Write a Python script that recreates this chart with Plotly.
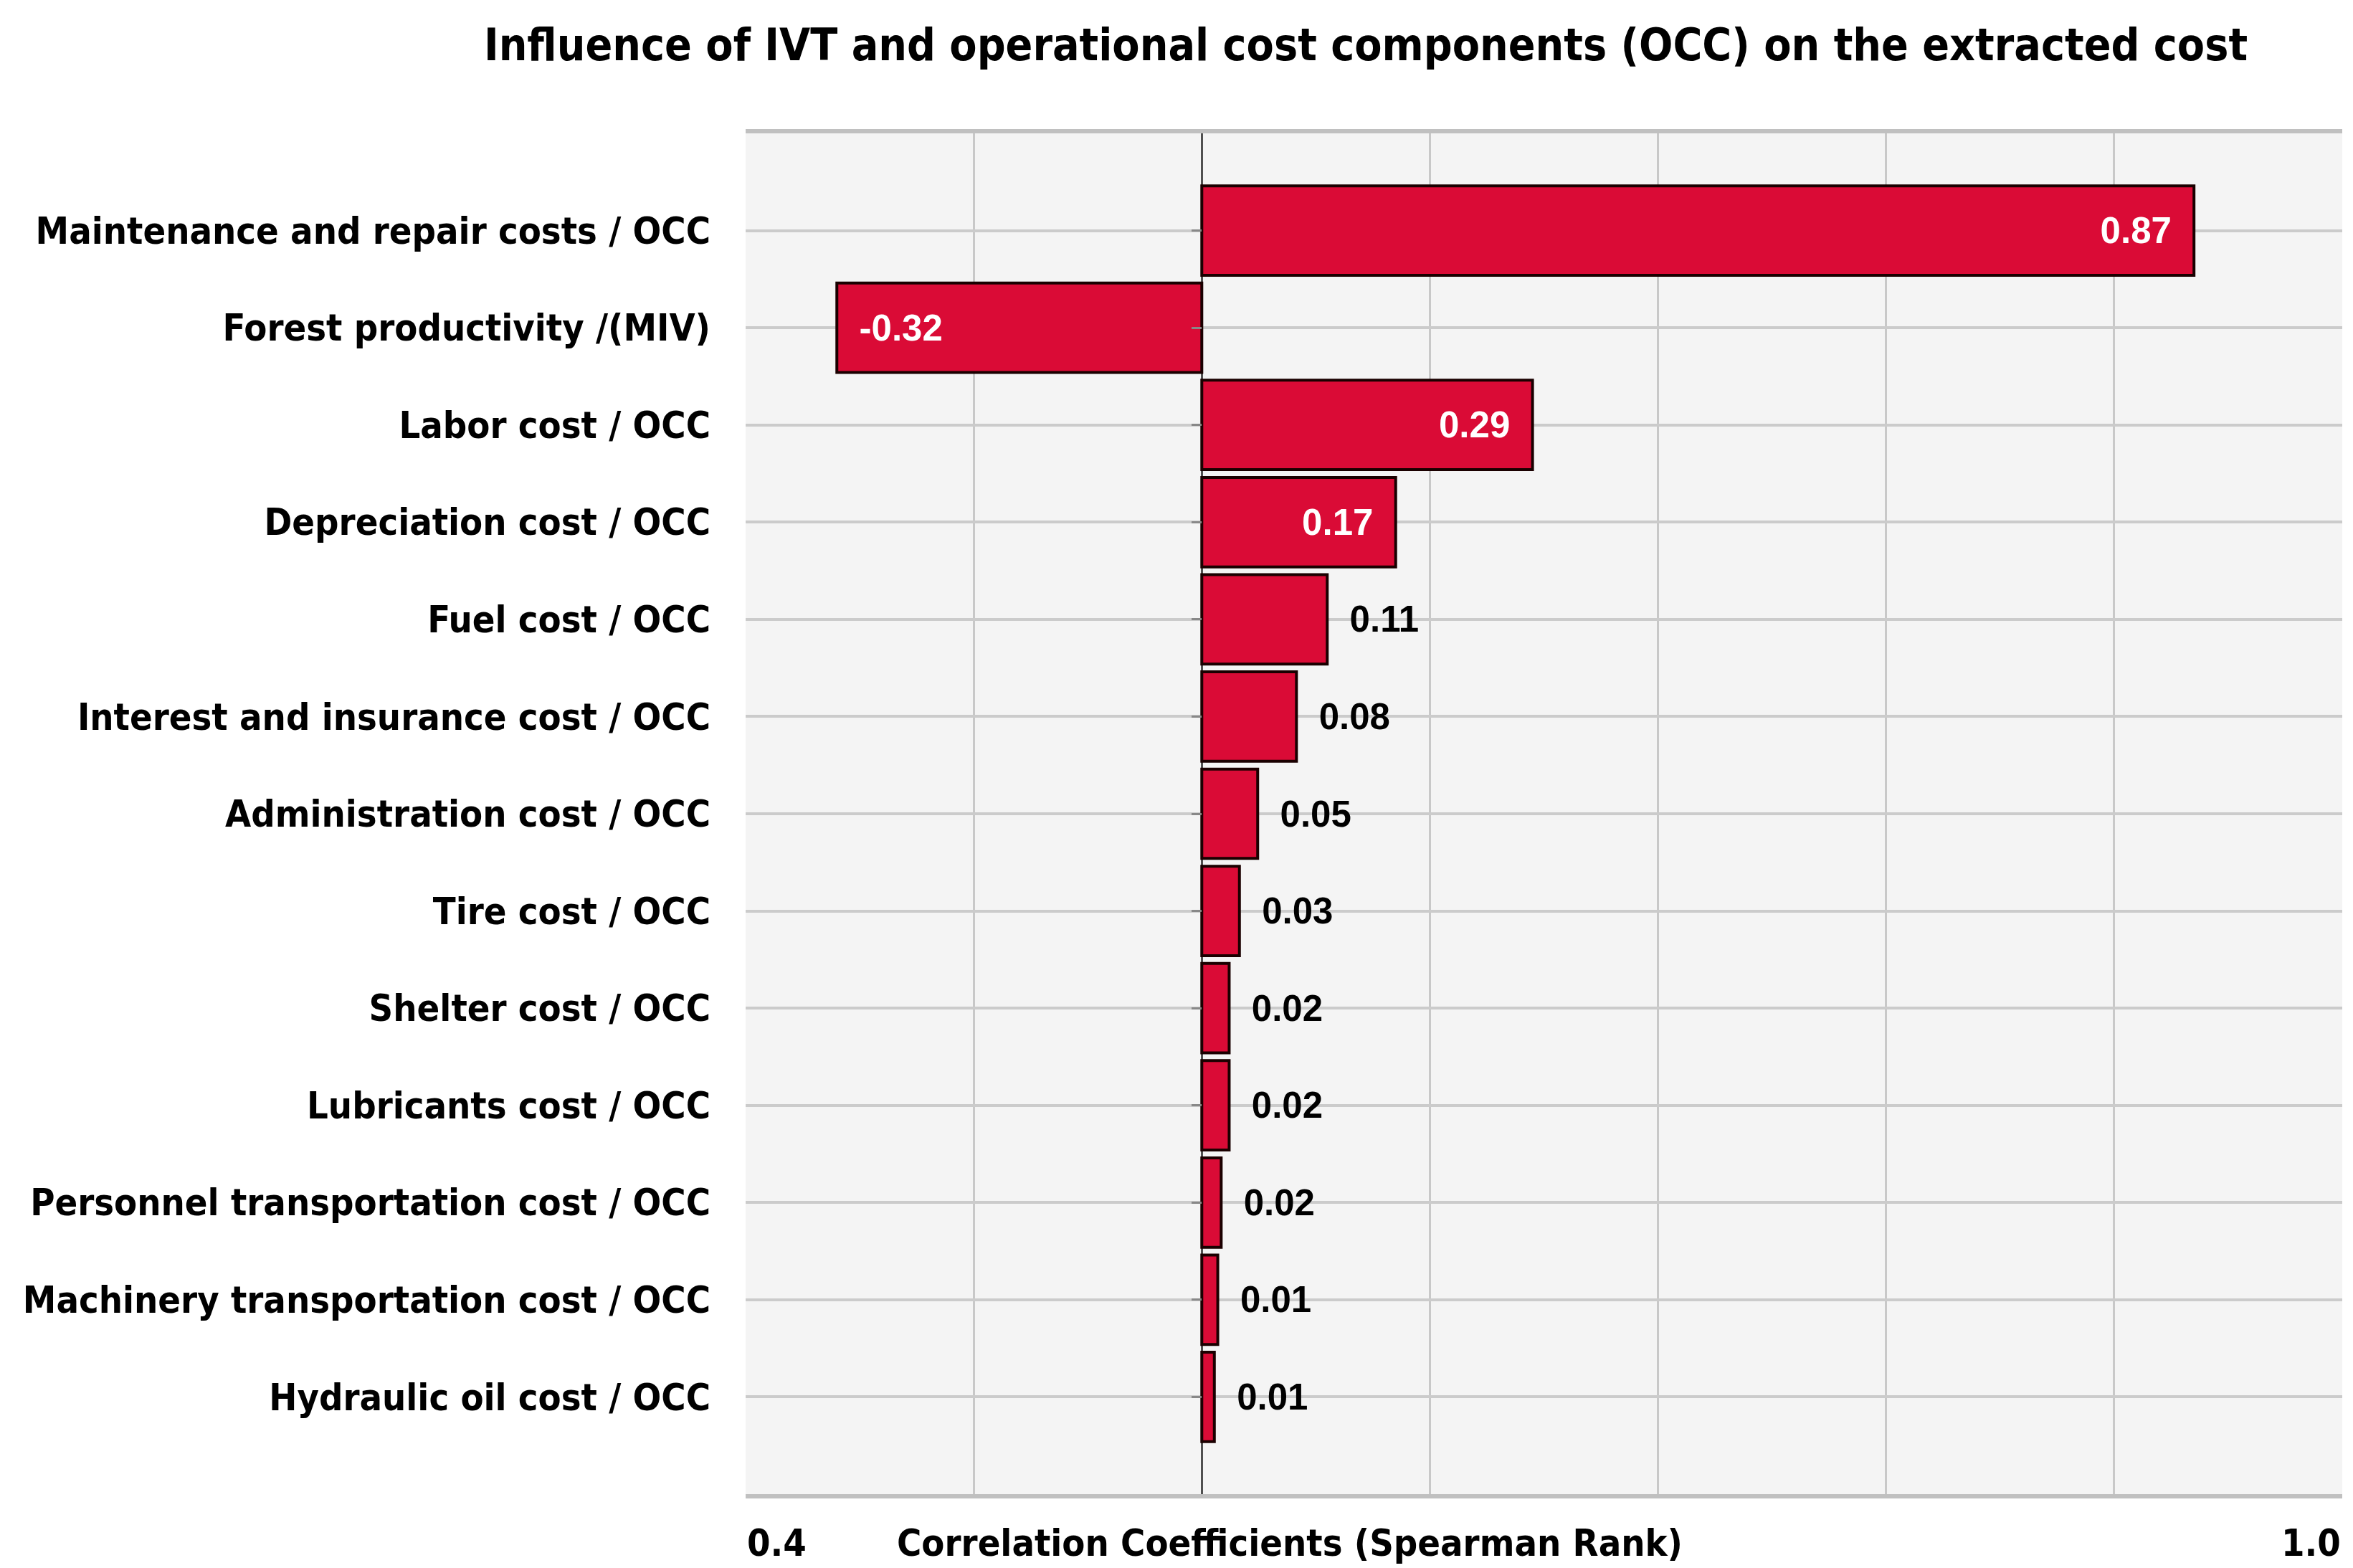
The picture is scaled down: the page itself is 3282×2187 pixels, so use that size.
import plotly.graph_objects as go

categories = [
    "Maintenance and repair costs / OCC",
    "Forest productivity /(MIV)",
    "Labor cost / OCC",
    "Depreciation cost / OCC",
    "Fuel cost / OCC",
    "Interest and insurance cost / OCC",
    "Administration cost / OCC",
    "Tire cost / OCC",
    "Shelter cost / OCC",
    "Lubricants cost / OCC",
    "Personnel transportation cost / OCC",
    "Machinery transportation cost / OCC",
    "Hydraulic oil cost / OCC",
]
values = [0.87, -0.32, 0.29, 0.17, 0.11, 0.083, 0.049, 0.033, 0.024, 0.024, 0.017, 0.014, 0.011]
x_tickvals = [-0.4, -0.2, 0.0, 0.2, 0.4, 0.6, 0.8, 1.0]
end_labels = ["0.4", "1.0"]
x_title = "Correlation Coefficients (Spearman Rank)"
title = "Influence of IVT and operational cost components (OCC) on the extracted cost"

W, H = 3282, 2187
LABEL_FONT = "DejaVu Sans Condensed, DejaVu Sans, sans-serif"
VALUE_FONT = "Liberation Sans, Arial, sans-serif"
SP = "\u00a0"

inside = [abs(v) >= 0.15 for v in values]
textpos = ["inside" if f else "outside" for f in inside]
templates = []
for v, f in zip(values, inside):
    if f and v >= 0:
        templates.append("%{x:.2f}" + SP * 2)
    else:
        templates.append(SP * 2 + "%{x:.2f}")

fig = go.Figure()
fig.add_trace(go.Bar(
    y=list(range(len(categories))),
    x=values,
    orientation="h",
    width=0.92,
    marker=dict(color="#da0b36", line=dict(color="#1a0000", width=4)),
    texttemplate=templates,
    textposition=textpos,
    insidetextanchor="end",
    constraintext="none",
    cliponaxis=False,
    insidetextfont=dict(family=VALUE_FONT, size=51, color="white", weight="bold"),
    outsidetextfont=dict(family=VALUE_FONT, size=51, color="black", weight="bold"),
    showlegend=False,
    hoverinfo="skip",
))
# carrier trace for the tick marks drawn along the zero line
fig.add_trace(go.Scatter(x=[None], y=[None], yaxis="y2", showlegend=False, hoverinfo="skip"))

fig.update_layout(
    width=W, height=H,
    margin=dict(l=1032, r=23, t=178, b=111),
    paper_bgcolor="white",
    plot_bgcolor="#f4f4f4",
    title=dict(text=title, x=0.578, xanchor="center", y=0.975, yanchor="middle",
               font=dict(family=LABEL_FONT, size=62, color="black", weight="bold")),
    xaxis=dict(
        range=[-0.4, 1.0],
        tickvals=x_tickvals,
        showticklabels=False,
        showgrid=True, gridcolor="#c8c8c8", gridwidth=3,
        zeroline=True, zerolinecolor="#505050", zerolinewidth=3,
        showline=True, linecolor="#c0c0c0", linewidth=6, mirror=True,
        ticks="",
    ),
    yaxis=dict(
        range=[13, -1],
        tickvals=list(range(len(categories))),
        ticktext=categories,
        showgrid=True, gridcolor="#cbcbcb", gridwidth=4,
        zeroline=False,
        ticks="",
        ticklabelstandoff=48,
        tickfont=dict(family=LABEL_FONT, size=52, color="black", weight="bold"),
        showline=False,
    ),
    yaxis2=dict(
        overlaying="y", matches="y", anchor="free", position=0.4 / 1.4,
        tickvals=list(range(len(categories))),
        showticklabels=False, showgrid=False, zeroline=False,
        ticks="outside", ticklen=14, tickwidth=3, tickcolor="#888888",
    ),
)

fig.add_annotation(x=x_tickvals[0], y=-0.036, xref="x", yref="paper", text=end_labels[0],
                   showarrow=False, xanchor="left", yanchor="middle",
                   font=dict(family=LABEL_FONT, size=52, color="black", weight="bold"))
fig.add_annotation(x=x_tickvals[-1], y=-0.036, xref="x", yref="paper", text=end_labels[1],
                   showarrow=False, xanchor="right", yanchor="middle",
                   font=dict(family=LABEL_FONT, size=52, color="black", weight="bold"))
fig.add_annotation(x=0.094, y=-0.036, xref="paper", yref="paper", text=x_title,
                   showarrow=False, xanchor="left", yanchor="middle",
                   font=dict(family=LABEL_FONT, size=52, color="black", weight="bold"))

fig.write_html("out.html")
